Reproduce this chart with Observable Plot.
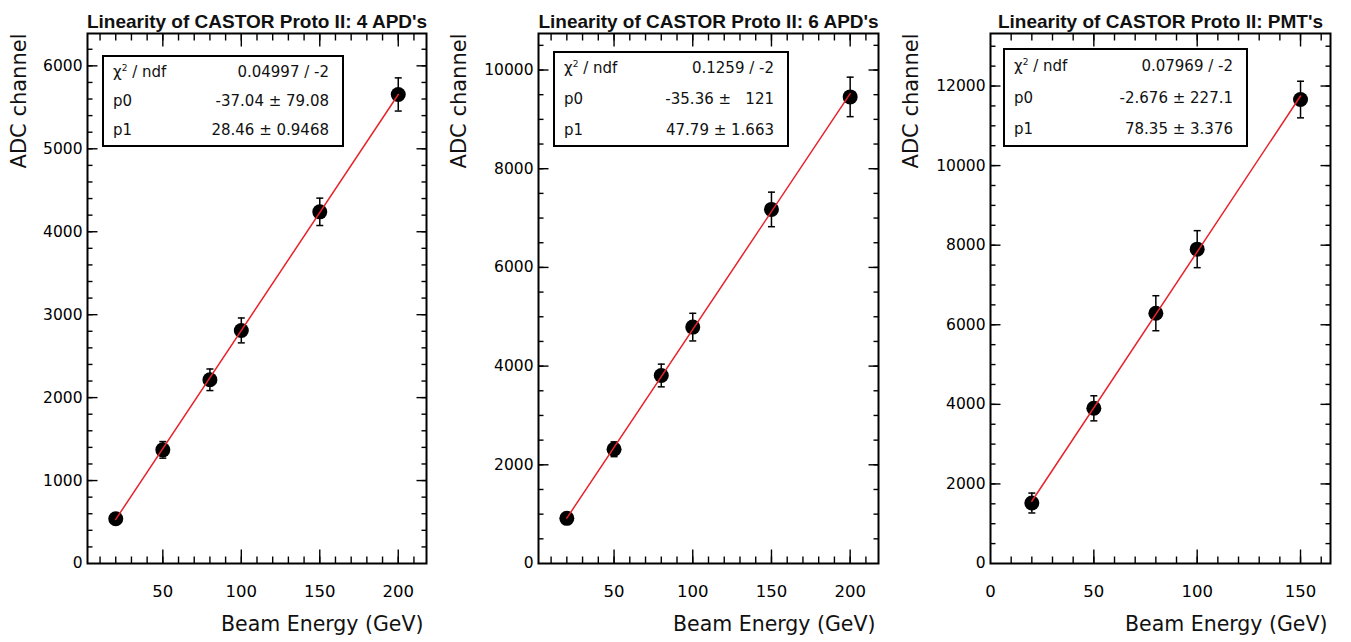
<!DOCTYPE html>
<html>
<head>
<meta charset="utf-8">
<script src="https://cdn.jsdelivr.net/npm/d3@7"></script>
<script src="https://cdn.jsdelivr.net/npm/@observablehq/plot@0.6"></script>
<style>
  html, body { margin: 0; padding: 0; background: white; }
  #wrap { position: relative; width: 1351px; height: 642px; overflow: hidden; background: white; }
  .panel { position: absolute; top: 0; }
  .stats { position: absolute; box-sizing: border-box; border: 2px solid black; background: white;
           font-family: "DejaVu Sans", sans-serif; font-size: 15px; color: #111; display: flex; flex-direction: column; }
  .stats .row { flex: 1; display: flex; justify-content: space-between; align-items: center; padding: 0 13px 0 9px; white-space: pre; }
  .stats sup { font-size: 9px; vertical-align: 0; position: relative; top: -6px; }
</style>
</head>
<body>
<div id="wrap"></div>
<script>
// ---------- data ----------
const titles = ["Linearity of CASTOR Proto II: 4 APD's", "Linearity of CASTOR Proto II: 6 APD's", "Linearity of CASTOR Proto II: PMT's"];
const xTitle = "Beam Energy (GeV)";
const yTitle = "ADC channel";

// 4 APD's
const energy4 = [20, 50, 80, 100, 150, 200];
const adc4    = [540, 1370, 2215, 2810, 4240, 5655];
const err4    = [60, 100, 130, 150, 165, 200];
const fitE4   = [20, 200];
const fitA4   = [532, 5655];

// 6 APD's
const energy6 = [20, 50, 80, 100, 150, 200];
const adc6    = [915, 2315, 3810, 4790, 7175, 9455];
const err6    = [90, 150, 230, 280, 350, 400];
const fitE6   = [20, 200];
const fitA6   = [920, 9520];

// PMT's
const energyP = [20, 50, 80, 100, 150];
const adcP    = [1520, 3900, 6290, 7900, 11660];
const errP    = [250, 315, 440, 465, 460];
const fitEP   = [20, 150];
const fitAP   = [1564, 11750];

// stats boxes
const statLabels = ["χ<sup>2</sup> / ndf", "p0", "p1"];
const stats4 = ["0.04997 / -2", "-37.04 ± 79.08", "28.46 ± 0.9468"];
const stats6 = ["0.1259 / -2", "-35.36 ±   121", "47.79 ± 1.663"];
const statsP = ["0.07969 / -2", "-2.676 ± 227.1", "78.35 ± 3.376"];

// tick labels
const xLab4 = [50, 100, 150, 200];
const xLabP = [0, 50, 100, 150];
const yLab4 = [0, 1000, 2000, 3000, 4000, 5000, 6000];
const yLab6 = [0, 2000, 4000, 6000, 8000, 10000];
const yLabP = [0, 2000, 4000, 6000, 8000, 10000, 12000];

// ---------- drawing ----------
const cap = { draw(ctx) { ctx.moveTo(-3.5, 0); ctx.lineTo(3.5, 0); } };
// inward tick symbols of a given length
const tickUp    = len => ({ draw(ctx) { ctx.moveTo(0, 0); ctx.lineTo(0, -len); } });
const tickDown  = len => ({ draw(ctx) { ctx.moveTo(0, 0); ctx.lineTo(0, len); } });
const tickRight = len => ({ draw(ctx) { ctx.moveTo(0, 0); ctx.lineTo(len, 0); } });
const tickLeft  = len => ({ draw(ctx) { ctx.moveTo(0, 0); ctx.lineTo(-len, 0); } });

function ticksX(vals, anchor, sym) {
  return Plot.dot(vals, {x: d => d, frameAnchor: anchor, symbol: sym, stroke: "black", strokeWidth: 1.4, fill: "none"});
}
function ticksY(vals, anchor, sym) {
  return Plot.dot(vals, {y: d => d, frameAnchor: anchor, symbol: sym, stroke: "black", strokeWidth: 1.4, fill: "none"});
}

function panel(cfg) {
  const pts = cfg.E.map((e, i) => ({x: e, y: cfg.A[i], e: cfg.Err[i]}));
  const fit = cfg.fitE.map((e, i) => ({x: e, y: cfg.fitA[i]}));
  const fmt = d => `${d}`;
  return Plot.plot({
    width: cfg.width, height: 642,
    marginLeft: cfg.ml, marginRight: cfg.mr, marginTop: 33, marginBottom: 79,
    x: {domain: cfg.xDomain, label: null},
    y: {domain: cfg.yDomain, label: null},
    style: {fontFamily: "DejaVu Sans", background: "white", color: "black", overflow: "visible"},
    marks: [
      // inward ticks on all four sides
      ticksX(cfg.xMinor, "bottom", tickUp(7)),
      ticksX(cfg.xMajor, "bottom", tickUp(14)),
      ticksX(cfg.xMinor, "top", tickDown(7)),
      ticksX(cfg.xMajor, "top", tickDown(13)),
      ticksY(cfg.yMinor, "left", tickRight(5)),
      ticksY(cfg.yMajor, "left", tickRight(10)),
      ticksY(cfg.yMinor, "right", tickLeft(5)),
      ticksY(cfg.yMajor, "right", tickLeft(10)),
      // tick labels
      Plot.axisX({anchor: "bottom", ticks: cfg.xLab, tickSize: 0, tickPadding: 22, tickFormat: fmt, fontSize: 16.5, label: null}),
      Plot.axisY({anchor: "left", ticks: cfg.yLab, tickSize: 0, tickPadding: 5, tickFormat: fmt, fontSize: 15.5, label: null}),
      Plot.frame({stroke: "black", strokeWidth: 2}),
      // error bars
      Plot.ruleX(pts, {x: "x", y1: d => d.y - d.e, y2: d => d.y + d.e, stroke: "black", strokeWidth: 1.5}),
      Plot.dot(pts, {x: "x", y: d => d.y + d.e, symbol: cap, stroke: "black", strokeWidth: 1.5, fill: "none"}),
      Plot.dot(pts, {x: "x", y: d => d.y - d.e, symbol: cap, stroke: "black", strokeWidth: 1.5, fill: "none"}),
      // points
      Plot.dot(pts, {x: "x", y: "y", r: 7.5, fill: "black"}),
      // fit line
      Plot.line(fit, {x: "x", y: "y", stroke: "#e8232b", strokeWidth: 1.5}),
      // titles
      Plot.text([cfg.title], {text: d => d, frameAnchor: "top", dy: -6, lineAnchor: "bottom",
        fontFamily: "Liberation Sans", fontWeight: "bold", fontSize: 19, fill: "#111"}),
      Plot.text([yTitle], {text: d => d, frameAnchor: "top-left", rotate: -90, textAnchor: "end",
        lineAnchor: "bottom", dx: cfg.ylabDx, fontSize: 21, fill: "#111"}),
      Plot.text([xTitle], {text: d => d, frameAnchor: "bottom-right", textAnchor: "end",
        lineAnchor: "bottom", dx: -3, dy: 67, fontSize: 20.5, fill: "#111"})
    ]
  });
}

const wrap = document.getElementById("wrap");
const cfgs = [
  {left: 0, width: 450, ml: 87, mr: 24, xDomain: [2, 218], yDomain: [0, 6390],
   xMajor: [50, 100, 150, 200], xMinor: d3.range(10, 218, 10), yMajor: d3.range(1000, 6390, 1000), yMinor: d3.range(200, 6390, 200),
   xLab: xLab4, yLab: yLab4, E: energy4, A: adc4, Err: err4, fitE: fitE4, fitA: fitA4, title: titles[0], ylabDx: -62,
   stats: stats4, box: {left: 102, top: 55, width: 242, height: 92}},
  {left: 450, width: 450, ml: 88, mr: 22, xDomain: [2, 218], yDomain: [0, 10740],
   xMajor: [50, 100, 150, 200], xMinor: d3.range(10, 218, 10), yMajor: d3.range(2000, 10740, 2000), yMinor: d3.range(500, 10740, 500),
   xLab: xLab4, yLab: yLab6, E: energy6, A: adc6, Err: err6, fitE: fitE6, fitA: fitA6, title: titles[1], ylabDx: -73,
   stats: stats6, box: {left: 553, top: 51, width: 236, height: 96}},
  {left: 900, width: 451, ml: 90, mr: 21, xDomain: [0, 164.5], yDomain: [0, 13320],
   xMajor: [50, 100, 150], xMinor: d3.range(10, 164, 10), yMajor: d3.range(2000, 13320, 2000), yMinor: d3.range(500, 13320, 500),
   xLab: xLabP, yLab: yLabP, E: energyP, A: adcP, Err: errP, fitE: fitEP, fitA: fitAP, title: titles[2], ylabDx: -73,
   stats: statsP, box: {left: 1003, top: 48, width: 245, height: 99}}
];

for (const c of cfgs) {
  const div = document.createElement("div");
  div.className = "panel";
  div.style.left = c.left + "px";
  div.appendChild(panel(c));
  wrap.appendChild(div);

  const box = document.createElement("div");
  box.className = "stats";
  Object.assign(box.style, {left: c.box.left + "px", top: c.box.top + "px", width: c.box.width + "px", height: c.box.height + "px"});
  statLabels.forEach((lab, i) => {
    const row = document.createElement("div");
    row.className = "row";
    const l = document.createElement("span"); l.innerHTML = lab;
    const v = document.createElement("span"); v.textContent = c.stats[i];
    row.appendChild(l); row.appendChild(v);
    box.appendChild(row);
  });
  wrap.appendChild(box);
}
</script>
</body>
</html>
